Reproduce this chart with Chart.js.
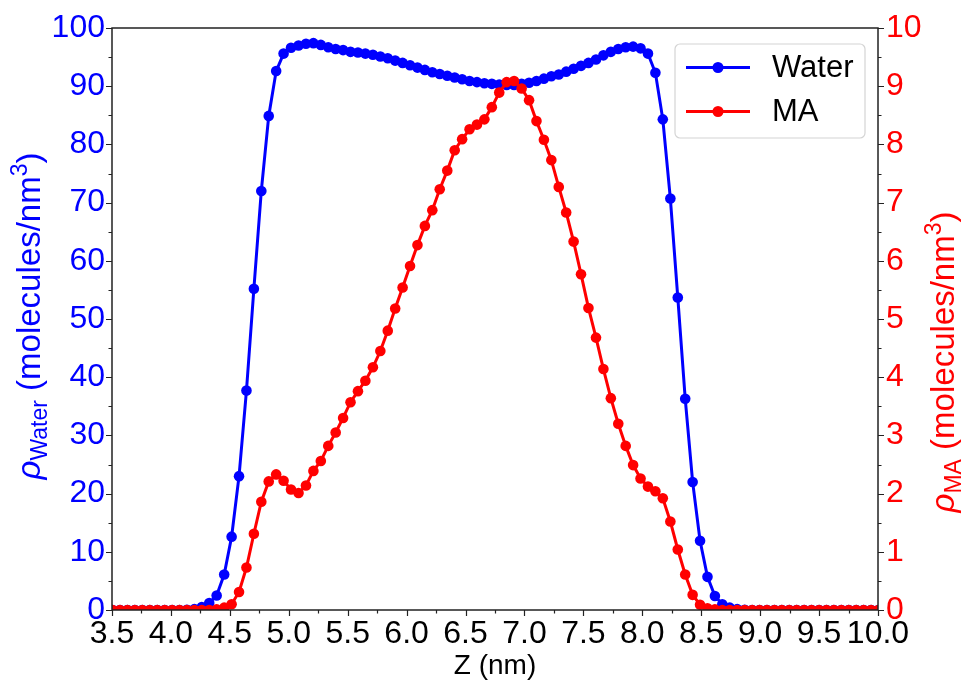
<!DOCTYPE html>
<html><head><meta charset="utf-8">
<script src="https://cdn.jsdelivr.net/npm/chart.js@4.4.1/dist/chart.umd.min.js"></script>
<style>html,body{margin:0;padding:0;background:#fff;}#wrap{width:967px;height:681px;position:relative}</style>
</head><body><div id="wrap"><canvas id="c" width="967" height="681"></canvas></div>
<script>
// ---- data ----
const zValues = [3.505,3.568,3.631,3.694,3.757,3.821,3.884,3.947,4.010,4.073,
4.136,4.199,4.262,4.325,4.388,4.452,4.515,4.578,4.641,4.704,
4.767,4.830,4.893,4.956,5.019,5.083,5.146,5.209,5.272,5.335,
5.398,5.461,5.524,5.587,5.650,5.714,5.777,5.840,5.903,5.966,
6.029,6.092,6.155,6.218,6.281,6.345,6.408,6.471,6.534,6.597,
6.660,6.723,6.786,6.849,6.912,6.976,7.039,7.102,7.165,7.228,
7.291,7.354,7.417,7.480,7.543,7.607,7.670,7.733,7.796,7.859,
7.922,7.985,8.048,8.111,8.174,8.238,8.301,8.364,8.427,8.490,
8.553,8.616,8.679,8.742,8.805,8.869,8.932,8.995,9.058,9.121,
9.184,9.247,9.310,9.373,9.436,9.500,9.563,9.626,9.689,9.752,
9.815,9.878,9.941,10.004];
const waterDensity = [0,0,0,0,0,0,0,0,0,0,
0.05,0.15,0.5,1.2,2.5,6.1,12.6,23.0,37.7,55.2,
72.0,84.9,92.6,95.6,96.6,97.0,97.3,97.4,97.1,96.7,
96.4,96.2,95.9,95.8,95.6,95.4,95.1,94.8,94.4,94.0,
93.6,93.2,92.8,92.4,92.1,91.8,91.5,91.2,90.9,90.7,
90.5,90.4,90.3,90.2,90.2,90.4,90.6,90.9,91.3,91.7,
92.0,92.5,93.0,93.5,94.0,94.6,95.3,95.9,96.4,96.7,
96.8,96.5,95.6,92.3,84.3,70.7,53.7,36.3,22.0,11.9,
5.7,2.4,1.0,0.4,0.15,0.05,0,0,0,0,
0,0,0,0,0,0,0,0,0,0,
0,0,0,0];
const maDensity = [0,0,0,0,0,0,0,0,0,0,
0,0,0,0,0.01,0.04,0.10,0.31,0.73,1.31,
1.86,2.21,2.33,2.22,2.07,2.01,2.14,2.39,2.56,2.82,
3.05,3.30,3.57,3.76,3.94,4.17,4.45,4.80,5.18,5.54,
5.91,6.27,6.60,6.87,7.23,7.55,7.90,8.09,8.26,8.34,
8.43,8.64,8.89,9.07,9.09,8.96,8.76,8.40,8.08,7.73,
7.27,6.83,6.33,5.77,5.19,4.68,4.14,3.64,3.20,2.82,
2.49,2.26,2.12,2.04,1.92,1.52,1.04,0.61,0.26,0.09,
0.03,0.01,0,0,0,0,0,0,0,0,
0,0,0,0,0,0,0,0,0,0,
0,0,0,0];
const xTickValues = [3.5,4.0,4.5,5.0,5.5,6.0,6.5,7.0,7.5,8.0,8.5,9.0,9.5,10.0];
const xTickLabels = ['3.5','4.0','4.5','5.0','5.5','6.0','6.5','7.0','7.5','8.0','8.5','9.0','9.5','10.0'];
const leftTickValues = [0,10,20,30,40,50,60,70,80,90,100];
const leftTickLabels = ['0','10','20','30','40','50','60','70','80','90','100'];
const rightTickValues = [0,1,2,3,4,5,6,7,8,9,10];
const rightTickLabels = ['0','1','2','3','4','5','6','7','8','9','10'];
const seriesNames = ['Water','MA'];

// ---- styling ----
const FONT = "'Liberation Sans', Arial, Helvetica, sans-serif";
const BLUE = '#0000ff', RED = '#ff0000';
const TICK_FS = 32;

const pts = (ys) => zValues.map((z, i) => ({x: z, y: ys[i]}));

const customPlugin = {
  id: 'mplDecor',
  afterDatasetsDraw(chart) {
    const ctx = chart.ctx;
    const a = chart.chartArea;
    const sx = chart.scales.x, sy = chart.scales.y, sy2 = chart.scales.y2;
    ctx.save();
    // frame
    ctx.strokeStyle = '#222';
    ctx.lineWidth = 1.5;
    ctx.strokeRect(a.left, a.top, a.right - a.left, a.bottom - a.top);
    // ticks
    ctx.lineWidth = 1.2;
    ctx.beginPath();
    for (let v = 3.5; v <= 10.0001; v += 0.25) {
      const px = Math.round(sx.getPixelForValue(v)) + 0.5;
      const major = Math.abs(v * 2 - Math.round(v * 2)) < 1e-6;
      const len = major ? 6 : 3.5;
      ctx.moveTo(px, a.bottom); ctx.lineTo(px, a.bottom + len);
    }
    for (let v = 0; v <= 100.001; v += 5) {
      const py = Math.round(sy.getPixelForValue(v)) + 0.5;
      const len = (v % 10 === 0) ? 6 : 3.5;
      ctx.moveTo(a.left, py); ctx.lineTo(a.left - len, py);
    }
    for (let k = 0; k <= 20; k++) {
      const v = k * 0.5;
      const py = Math.round(sy2.getPixelForValue(v)) + 0.5;
      const len = (k % 2 === 0) ? 6 : 3.5;
      ctx.moveTo(a.right, py); ctx.lineTo(a.right + len, py);
    }
    ctx.stroke();

    // legend
    const lx = 675, ly = 44, lw = 190, lh = 94;
    ctx.beginPath();
    const r = 5;
    ctx.moveTo(lx + r, ly);
    ctx.arcTo(lx + lw, ly, lx + lw, ly + lh, r);
    ctx.arcTo(lx + lw, ly + lh, lx, ly + lh, r);
    ctx.arcTo(lx, ly + lh, lx, ly, r);
    ctx.arcTo(lx, ly, lx + lw, ly, r);
    ctx.closePath();
    ctx.fillStyle = 'rgba(255,255,255,0.85)';
    ctx.fill();
    ctx.strokeStyle = '#d4d4d4';
    ctx.lineWidth = 1.2;
    ctx.stroke();
    const entries = [{c: BLUE, y: 67.5, t: seriesNames[0]}, {c: RED, y: 111.5, t: seriesNames[1]}];
    entries.forEach(e => {
      ctx.strokeStyle = e.c; ctx.lineWidth = 3;
      ctx.beginPath(); ctx.moveTo(686, e.y); ctx.lineTo(750, e.y); ctx.stroke();
      ctx.fillStyle = e.c;
      ctx.beginPath(); ctx.arc(718, e.y, 5.5, 0, Math.PI * 2); ctx.fill();
      ctx.fillStyle = '#000';
      ctx.font = `31px ${FONT}`;
      ctx.textAlign = 'left'; ctx.textBaseline = 'middle';
      ctx.fillText(e.t, 772, e.y + 1);
    });
    ctx.restore();
  },
  afterDraw(chart) {
    const ctx = chart.ctx;
    const a = chart.chartArea;
    ctx.save();
    // x title
    ctx.fillStyle = '#000';
    ctx.font = `28px ${FONT}`;
    ctx.textAlign = 'center'; ctx.textBaseline = 'middle';
    ctx.fillText('Z (nm)', (a.left + a.right) / 2, 666);
    // rich rotated titles
    const drawRich = (runs, cx, cy, color) => {
      ctx.save();
      ctx.translate(cx, cy);
      ctx.rotate(-Math.PI / 2);
      ctx.fillStyle = color;
      ctx.textBaseline = 'alphabetic';
      ctx.textAlign = 'left';
      let total = 0;
      runs.forEach(r => { ctx.font = r.f; r.w = ctx.measureText(r.t).width; total += r.w; });
      let x = -total / 2;
      runs.forEach(r => { ctx.font = r.f; ctx.fillText(r.t, x, 11 + r.dy); x += r.w; });
      ctx.restore();
    };
    drawRich([
      {t: 'ρ', f: `italic 33px ${FONT}`, dy: 0},
      {t: 'Water', f: `23px ${FONT}`, dy: 7},
      {t: ' (molecules/nm', f: `33px ${FONT}`, dy: 0},
      {t: '3', f: `23px ${FONT}`, dy: -13},
      {t: ')', f: `33px ${FONT}`, dy: 0}
    ], 29, 316, BLUE);
    drawRich([
      {t: 'ρ', f: `italic 33px ${FONT}`, dy: 0},
      {t: 'MA', f: `23px ${FONT}`, dy: 7},
      {t: ' (molecules/nm', f: `33px ${FONT}`, dy: 0},
      {t: '3', f: `23px ${FONT}`, dy: -13},
      {t: ')', f: `33px ${FONT}`, dy: 0}
    ], 943, 362, RED);
    ctx.restore();
  }
};

new Chart(document.getElementById('c'), {
  type: 'line',
  data: {
    datasets: [
      {label: seriesNames[0], data: pts(waterDensity), yAxisID: 'y', borderColor: BLUE, backgroundColor: BLUE,
       borderWidth: 3, pointRadius: 5.3, pointBorderWidth: 0, pointBackgroundColor: BLUE, tension: 0, order: 2},
      {label: seriesNames[1], data: pts(maDensity), yAxisID: 'y2', borderColor: RED, backgroundColor: RED,
       borderWidth: 3, pointRadius: 5.3, pointBorderWidth: 0, pointBackgroundColor: RED, tension: 0, order: 1}
    ]
  },
  options: {
    responsive: false, animation: false, devicePixelRatio: 1,
    layout: {padding: {top: 28, left: 0, right: 0, bottom: 0}},
    plugins: {legend: {display: false}, tooltip: {enabled: false}},
    scales: {
      x: {
        type: 'linear', min: 3.5, max: 10,
        afterBuildTicks: s => { s.ticks = xTickValues.map(v => ({value: v})); },
        afterFit: s => { s.height = 71; },
        ticks: {callback: (v, i) => xTickLabels[i], font: {family: FONT, size: TICK_FS}, color: '#000', padding: 0, maxRotation: 0, autoSkip: false},
        grid: {display: false, tickLength: 5}, border: {display: false}
      },
      y: {
        position: 'left', min: 0, max: 100,
        afterBuildTicks: s => { s.ticks = leftTickValues.map(v => ({value: v})); },
        afterFit: s => { s.width = 112; },
        ticks: {callback: (v, i) => leftTickLabels[i], font: {family: FONT, size: TICK_FS}, color: BLUE, padding: 1, autoSkip: false},
        grid: {display: false, tickLength: 6}, border: {display: false}
      },
      y2: {
        position: 'right', min: 0, max: 10,
        afterBuildTicks: s => { s.ticks = rightTickValues.map(v => ({value: v})); },
        afterFit: s => { s.width = 89; },
        ticks: {callback: (v, i) => rightTickLabels[i], font: {family: FONT, size: TICK_FS}, color: RED, padding: 2, autoSkip: false},
        grid: {display: false, tickLength: 6}, border: {display: false}
      }
    }
  },
  plugins: [customPlugin]
});
</script>
</body></html>
